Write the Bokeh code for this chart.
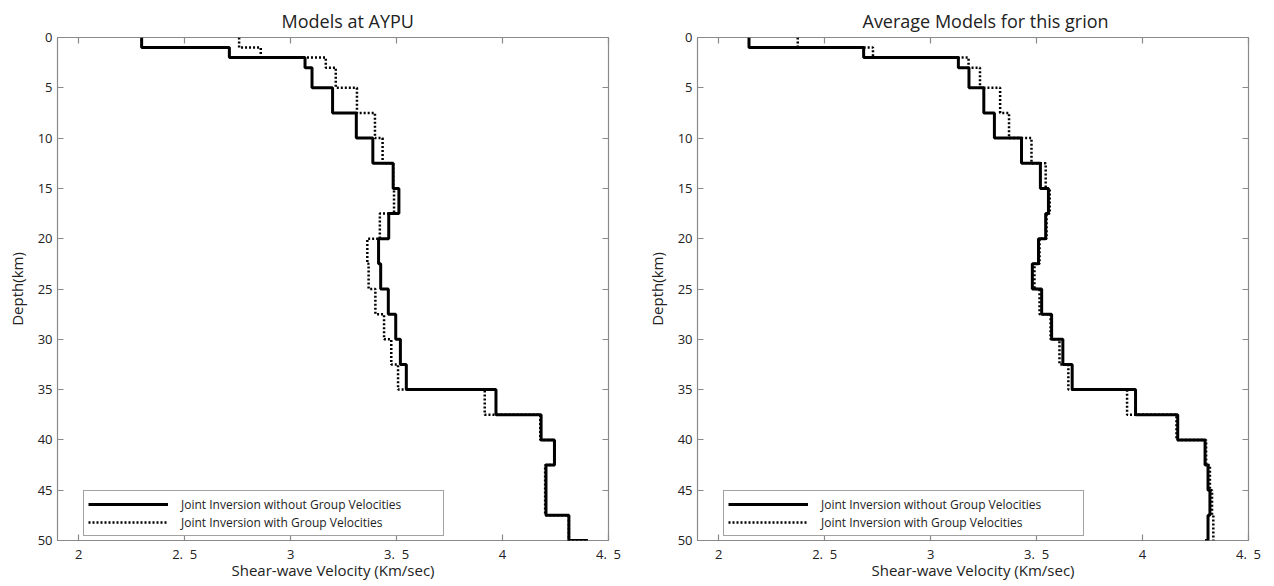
from bokeh.plotting import figure
from bokeh.models import (Range1d, LinearAxis, FixedTicker, Legend, LegendItem, Title)
from bokeh.layouts import row
from bokeh.embed import file_html
from bokeh.resources import INLINE

# ---------------- data ----------------
layer_top = [0, 1, 2, 3, 5, 7.5, 10, 12.5, 15, 17.5, 20, 22.5, 25, 27.5, 30, 32.5, 35, 37.5, 40, 42.5, 45, 47.5, 50]
layer_bot = [1, 2, 3, 5, 7.5, 10, 12.5, 15, 17.5, 20, 22.5, 25, 27.5, 30, 32.5, 35, 37.5, 40, 42.5, 45, 47.5, 50, 50]

aypu_without = [2.297, 2.711, 3.068, 3.101, 3.198, 3.310, 3.388, 3.484, 3.511, 3.463, 3.415, 3.425, 3.461, 3.496,
                3.518, 3.546, 3.969, 4.182, 4.245, 4.205, 4.205, 4.313, 4.403]
aypu_with = [2.757, 2.859, 3.166, 3.213, 3.313, 3.398, 3.434, 3.484, 3.488, 3.421, 3.362, 3.368, 3.400, 3.441,
             3.475, 3.507, 3.916, 4.178, 4.245, 4.201, 4.201, 4.313, 4.403]

avg_without = [2.143, 2.684, 3.131, 3.181, 3.251, 3.301, 3.429, 3.518, 3.556, 3.543, 3.509, 3.480, 3.524, 3.571,
               3.624, 3.668, 3.967, 4.166, 4.295, 4.309, 4.318, 4.309, 4.295]
avg_with = [2.373, 2.728, 3.179, 3.233, 3.328, 3.370, 3.476, 3.543, 3.562, 3.547, 3.514, 3.490, 3.514, 3.566,
            3.608, 3.650, 3.927, 4.160, 4.300, 4.318, 4.328, 4.334, 4.334]

x_tick_values = [2, 2.5, 3, 3.5, 4, 4.5]
x_tick_labels = ["2", "2.\u00a0\u00a05", "3", "3.\u00a0\u00a05", "4", "4.\u00a0\u00a05"]
y_tick_values = [0, 5, 10, 15, 20, 25, 30, 35, 40, 45, 50]

titles = ["Models at AYPU", "Average Models for this grion"]
legend_labels = ["Joint Inversion without Group Velocities", "Joint Inversion with Group Velocities"]
x_label = "Shear-wave Velocity (Km/sec)"
y_label = "Depth(km)"

FONT = "Open Sans"
FRAME_W, FRAME_H = 551, 503
GRAY = "#8a8a8a"
TXT = "#222222"


def profile(vel):
    xs, ys = [], []
    for v, t, b in zip(vel, layer_top, layer_bot):
        xs += [v, v]
        ys += [t, b]
    return xs, ys


def style_common(ax):
    ax.axis_line_color = None
    ax.major_tick_in = 6
    ax.major_tick_out = 0
    ax.minor_tick_line_color = None
    ax.major_tick_line_color = GRAY
    ax.major_tick_line_width = 1.2


def make_panel(title, v_without, v_with, left_border, right_border, title_offset):
    xt = FixedTicker(ticks=x_tick_values)
    yt = FixedTicker(ticks=y_tick_values)

    p = figure(frame_width=FRAME_W, frame_height=FRAME_H, output_backend="svg", toolbar_location=None,
               x_range=Range1d(1.9, 4.5), y_range=Range1d(50, 0),
               x_axis_type=None, y_axis_type=None,
               min_border_left=left_border, min_border_right=right_border,
               min_border_top=37, min_border_bottom=46)
    p.title = Title(text=title, align="left", offset=title_offset, text_font=FONT, text_font_size="18px",
                    text_font_style="normal", text_color=TXT, standoff=10)
    p.grid.visible = False
    p.outline_line_color = GRAY
    p.outline_line_width = 1.2
    p.background_fill_color = "white"
    p.border_fill_color = "white"

    xs, ys = profile(v_without)
    r1 = p.line(xs, ys, line_color="black", line_width=3)
    xs2, ys2 = profile(v_with)
    r2 = p.line(xs2, ys2, line_color="black", line_width=2.5, line_dash="2 2")

    bottom = LinearAxis(ticker=xt, axis_label=x_label,
                        major_label_overrides={v: l for v, l in zip(x_tick_values, x_tick_labels)})
    left = LinearAxis(ticker=yt, axis_label=y_label)
    top = LinearAxis(ticker=xt)
    right = LinearAxis(ticker=yt)

    for ax in (bottom, left):
        style_common(ax)
        ax.major_label_text_font = FONT
        ax.major_label_text_font_size = "13px"
        ax.major_label_text_color = TXT
        ax.axis_label_text_font = FONT
        ax.axis_label_text_font_size = "15px"
        ax.axis_label_text_font_style = "normal"
        ax.axis_label_text_color = TXT
    bottom.major_label_standoff = 4
    bottom.axis_label_standoff = -6
    left.major_label_standoff = 5
    left.axis_label_standoff = 8

    for ax in (top, right):
        style_common(ax)
        ax.major_label_text_font_size = "0px"
        ax.major_label_standoff = 0
        ax.major_label_text_alpha = 0

    p.add_layout(bottom, "below")
    p.add_layout(left, "left")
    p.add_layout(top, "above")
    p.add_layout(right, "right")

    legend = Legend(items=[LegendItem(label=legend_labels[0], renderers=[r1]),
                           LegendItem(label=legend_labels[1], renderers=[r2])],
                    location=(26, 4), orientation="vertical",
                    glyph_width=80, glyph_height=18, label_height=18, label_width=258,
                    label_standoff=13, padding=4, spacing=0, margin=0,
                    label_text_font=FONT, label_text_font_size="12px", label_text_color=TXT,
                    border_line_color="#444444", border_line_width=1.5,
                    background_fill_color="white", background_fill_alpha=1.0)
    p.add_layout(legend, "center")
    return p


p1 = make_panel(titles[0], aypu_without, aypu_with, 57, 32, 224)
p2 = make_panel(titles[1], avg_without, avg_with, 57, 25, 165)
layout = row(p1, p2, spacing=0)

open("out.html", "w").write(file_html(layout, INLINE))
